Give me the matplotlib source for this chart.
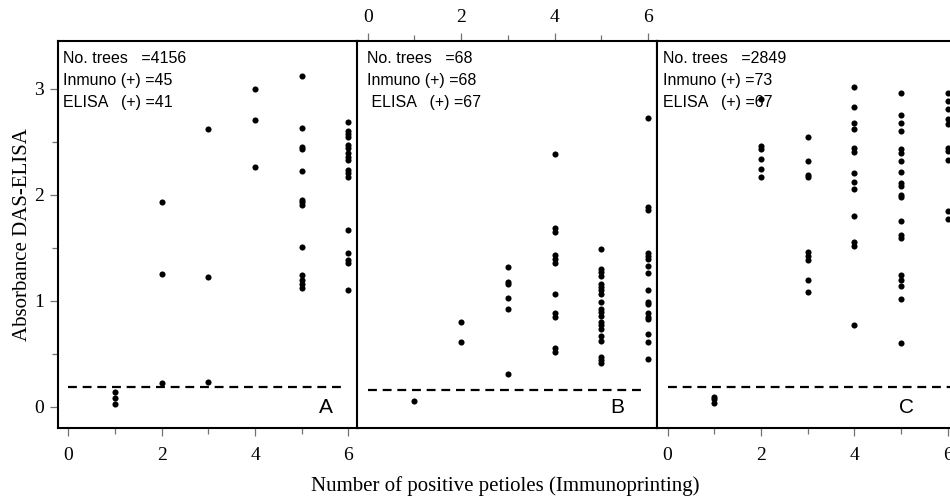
import numpy as np
import matplotlib.pyplot as plt
from matplotlib.ticker import MultipleLocator

# absorbance values read per number of positive petioles (1..6)
a_vals = {
    1: [0.14, 0.08, 0.03],
    2: [1.93, 1.25, 0.22],
    3: [2.62, 1.22, 0.23],
    4: [3.00, 2.70, 2.26],
    5: [3.12, 2.63, 2.45, 2.43, 2.22, 1.95, 1.93, 1.90, 1.51, 1.24, 1.20, 1.16, 1.12],
    6: [2.69, 2.60, 2.57, 2.54, 2.47, 2.44, 2.39, 2.36, 2.33, 2.23, 2.20, 2.17,
        1.67, 1.45, 1.38, 1.36, 1.10],
}
b_vals = {
    1: [0.05],
    2: [0.80, 0.61],
    3: [1.32, 1.18, 1.16, 1.03, 0.92, 0.31],
    4: [2.38, 1.69, 1.65, 1.43, 1.39, 1.36, 1.06, 0.88, 0.85, 0.55, 0.52],
    5: [1.49, 1.30, 1.27, 1.23, 1.16, 1.13, 1.10, 1.06, 0.99, 0.92, 0.89, 0.86,
        0.80, 0.77, 0.73, 0.67, 0.62, 0.47, 0.44, 0.41],
    6: [2.72, 1.88, 1.86, 1.45, 1.42, 1.39, 1.33, 1.26, 1.10, 0.99, 0.97, 0.88,
        0.85, 0.83, 0.69, 0.61, 0.45],
}
c_vals = {
    1: [0.09, 0.07, 0.04],
    2: [2.90, 2.46, 2.43, 2.34, 2.24, 2.17],
    3: [2.54, 2.32, 2.19, 2.17, 1.46, 1.42, 1.38, 1.20, 1.08],
    4: [3.02, 2.83, 2.68, 2.62, 2.44, 2.40, 2.20, 2.12, 2.05, 1.80, 1.55, 1.52, 0.77],
    5: [2.96, 2.75, 2.68, 2.60, 2.43, 2.39, 2.32, 2.21, 2.11, 2.08, 2.00, 1.98,
        1.75, 1.62, 1.59, 1.24, 1.20, 1.14, 1.02, 0.60],
    6: [2.96, 2.88, 2.81, 2.71, 2.67, 2.44, 2.41, 2.33, 1.85, 1.77],
}

panel_vals = [a_vals, b_vals, c_vals]
panel_letters = ['A', 'B', 'C']
cutoffs = [0.19, 0.155, 0.19]
cutoff_end = [5.93, 5.95, 6.4]
info_lines = [
    ['No. trees   =4156', 'Inmuno (+) =45', 'ELISA   (+) =41'],
    ['No. trees   =68', 'Inmuno (+) =68', ' ELISA   (+) =67'],
    ['No. trees   =2849', 'Inmuno (+) =73', 'ELISA   (+) =67'],
]
x_ticks = [0, 2, 4, 6]
y_ticks = [0, 1, 2, 3]

serif = ['Liberation Serif', 'DejaVu Serif']
sans = ['Liberation Sans', 'DejaVu Sans']

fig = plt.figure(figsize=(9.5, 5.04), dpi=100)
bottom, height = 0.1508, 0.768
lefts = [0.0611, 0.3763, 0.6919]
width = 0.3155

for i, vals in enumerate(panel_vals):
    ax = fig.add_axes([lefts[i], bottom, width, height])
    xs = np.concatenate([[k] * len(v) for k, v in vals.items()])
    ys = np.concatenate([v for v in vals.values()])
    ax.plot(xs, ys, 'o', color='black', ms=4.4, mec='none', clip_on=False)
    ax.hlines(cutoffs[i], 0, cutoff_end[i], colors='black', lw=1.6,
              linestyles=(0, (4, 2.6)))
    ax.set_xlim(-0.22, 6.2)
    ax.set_ylim(-0.2, 3.45)
    for s in ax.spines.values():
        s.set_linewidth(1.5)

    ax.xaxis.set_major_locator(plt.FixedLocator(x_ticks))
    ax.xaxis.set_minor_locator(MultipleLocator(1))
    ax.yaxis.set_major_locator(plt.FixedLocator(y_ticks))
    ax.yaxis.set_minor_locator(MultipleLocator(0.5))
    ax.tick_params(which='both', direction='out', color='0.45', width=0.9)
    ax.tick_params(which='major', length=6, labelsize=14, pad=8)
    ax.tick_params(which='minor', length=4)

    if i == 1:
        ax.tick_params(axis='x', which='both', bottom=False, labelbottom=False,
                       top=True, labeltop=True, pad=5)
    if i > 0:
        ax.tick_params(axis='y', which='both', left=False, labelleft=False)
    else:
        ax.tick_params(axis='y', pad=4)
    for lab in ax.get_xticklabels() + ax.get_yticklabels():
        lab.set_family(serif)

    xpos = [0.017, 0.032, 0.019][i]
    for line, yb in zip(info_lines[i], [0.944, 0.886, 0.829]):
        ax.text(xpos, yb, line, transform=ax.transAxes, fontsize=11.5,
                family=sans, va='baseline', ha='left')
    ax.text([0.893, 0.868, 0.832][i], 0.052, panel_letters[i], transform=ax.transAxes,
            fontsize=15, family=sans, ha='center', va='center')

fig.text(0.024, 0.535, 'Absorbance DAS-ELISA', rotation=90, ha='center', va='center',
         fontsize=15, family=serif)
fig.text(0.532, 0.025, 'Number of positive petioles (Immunoprinting)', ha='center',
         va='baseline', fontsize=15, family=serif)

fig.savefig('out.png', dpi=100)
